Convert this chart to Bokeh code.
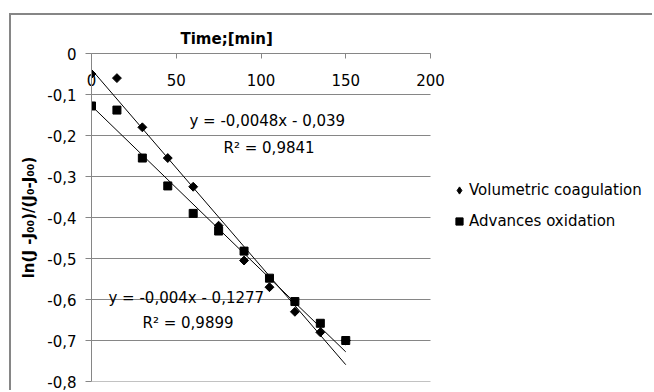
from bokeh.plotting import figure
from bokeh.models import Range1d, FixedTicker, Label, Legend, LegendItem, Title
from bokeh.embed import file_html
from bokeh.resources import INLINE
import math

# ---- data ----
time_min = [0, 15, 30, 45, 60, 75, 90, 105, 120, 135, 150]
volumetric = [-0.05, -0.06, -0.18, -0.255, -0.325, -0.42, -0.505, -0.57, -0.63, -0.68, -0.70]
oxidation = [-0.128, -0.138, -0.255, -0.323, -0.39, -0.433, -0.482, -0.548, -0.605, -0.658, -0.70]

series_names = ["Volumetric coagulation", "Advances oxidation"]
trend_slopes = [-0.0048, -0.004]
trend_intercepts = [-0.039, -0.1277]
trend_eq_texts = ["y = -0,0048x - 0,039", "y = -0,004x - 0,1277"]
trend_r2_texts = ["R\u00b2 = 0,9841", "R\u00b2 = 0,9899"]

x_ticks = [0, 50, 100, 150, 200]
y_ticks = [0, -0.1, -0.2, -0.3, -0.4, -0.5, -0.6, -0.7, -0.8]
y_tick_labels = ["0", "-0,1", "-0,2", "-0,3", "-0,4", "-0,5", "-0,6", "-0,7", "-0,8"]

x_title = "Time;[min]"
y_title = "ln(J -J\u2080\u2080)/(J\u2080-J\u2080\u2080)"

FONT = "DejaVu Sans"
GRAY = "#868686"

X_MIN, X_MAX = min(x_ticks), max(x_ticks)
# the frame is widened to the right so the legend (right of the plotted area) is not
# clipped; the plotted area 0..X_MAX takes 339 px of the 563 px frame
x_view_end = X_MAX * 563.0 / 339.0

p = figure(width=643, height=377, output_backend="svg", toolbar_location=None,
           x_range=Range1d(X_MIN, x_view_end),
           y_range=Range1d(min(y_ticks), max(y_ticks)),
           x_axis_location="above",
           min_border_left=80, min_border_top=38, min_border_right=0, min_border_bottom=11)
p.styles = {"border-left": "2px solid " + GRAY, "border-top": "2px solid " + GRAY,
            "margin-left": "9px", "margin-top": "13px"}
p.outline_line_color = None
p.background_fill_color = "white"
p.border_fill_color = "white"

# axes
xa = p.xaxis[0]
xa.ticker = FixedTicker(ticks=x_ticks)
xa.bounds = (X_MIN, X_MAX)
xa.axis_line_color = GRAY
xa.major_tick_line_color = GRAY
xa.major_tick_in = 5
xa.major_tick_out = 0
xa.minor_tick_line_color = None
xa.major_label_standoff = -32
xa.major_label_text_font = FONT
xa.major_label_text_font_size = "15px"
xa.major_label_text_color = "black"

ya = p.yaxis[0]
ya.ticker = FixedTicker(ticks=y_ticks)
ya.major_label_overrides = {t: s for t, s in zip(y_ticks, y_tick_labels)}
ya.axis_line_color = GRAY
ya.major_tick_line_color = GRAY
ya.major_tick_in = 0
ya.major_tick_out = 6
ya.minor_tick_line_color = None
ya.major_label_standoff = 9
ya.major_label_text_font = FONT
ya.major_label_text_font_size = "15px"
ya.major_label_text_color = "black"

p.add_layout(Title(text=y_title, align="center", standoff=13, text_font=FONT,
                   text_font_size="15px", text_font_style="bold", text_color="black"), "left")
p.add_layout(Title(text=x_title, align="left", offset=89, standoff=11, text_font=FONT,
                   text_font_size="15px", text_font_style="bold", text_color="black"), "above")

# horizontal gridlines across the plotted area only
p.xgrid.grid_line_color = None
p.ygrid.grid_line_color = None
p.segment(x0=[X_MIN] * len(y_ticks), x1=[X_MAX] * len(y_ticks), y0=y_ticks, y1=y_ticks,
          line_color=GRAY, line_width=1)

# trend lines
x_line = [min(time_min), max(time_min)]
for m, b in zip(trend_slopes, trend_intercepts):
    p.line(x_line, [m * xv + b for xv in x_line], line_color="black", line_width=1)

# points (diamond = square turned by 45 degrees, as in the original)
r_vol = p.scatter(time_min, volumetric, marker="square", angle=math.pi / 4, size=6.3, color="black")
r_oxi = p.scatter(time_min, oxidation, marker="square", size=8, color="black")
# hidden diamond renderer used only for the legend swatch
r_vol_key = p.scatter(time_min, volumetric, marker="diamond", size=10, color="black", visible=False)

# equation labels
eq_pos = [(57.8, -0.1655), (10.0, -0.596)]
r2_pos = [(77.9, -0.231), (30.1, -0.657)]
for (ex, ey), t in zip(eq_pos, trend_eq_texts):
    p.add_layout(Label(x=ex, y=ey, text=t, text_align="left", text_baseline="middle",
                       text_font=FONT, text_font_size="15px", text_color="black"))
for (rx, ry), t in zip(r2_pos, trend_r2_texts):
    p.add_layout(Label(x=rx, y=ry, text=t, text_align="left", text_baseline="middle",
                       text_font=FONT, text_font_size="15px", text_color="black"))

legend = Legend(items=[LegendItem(label=series_names[0], renderers=[r_vol_key]),
                       LegendItem(label=series_names[1], renderers=[r_oxi])],
                location=(359, 150))
legend.border_line_color = None
legend.background_fill_alpha = 0
legend.padding = 0
legend.margin = 0
legend.spacing = 11
legend.glyph_width = 18
legend.glyph_height = 18
legend.label_height = 20
legend.label_standoff = 1
legend.label_text_font = FONT
legend.label_text_font_size = "15px"
legend.label_text_color = "black"
p.add_layout(legend, "center")

open("out.html", "w").write(file_html(p, INLINE))
